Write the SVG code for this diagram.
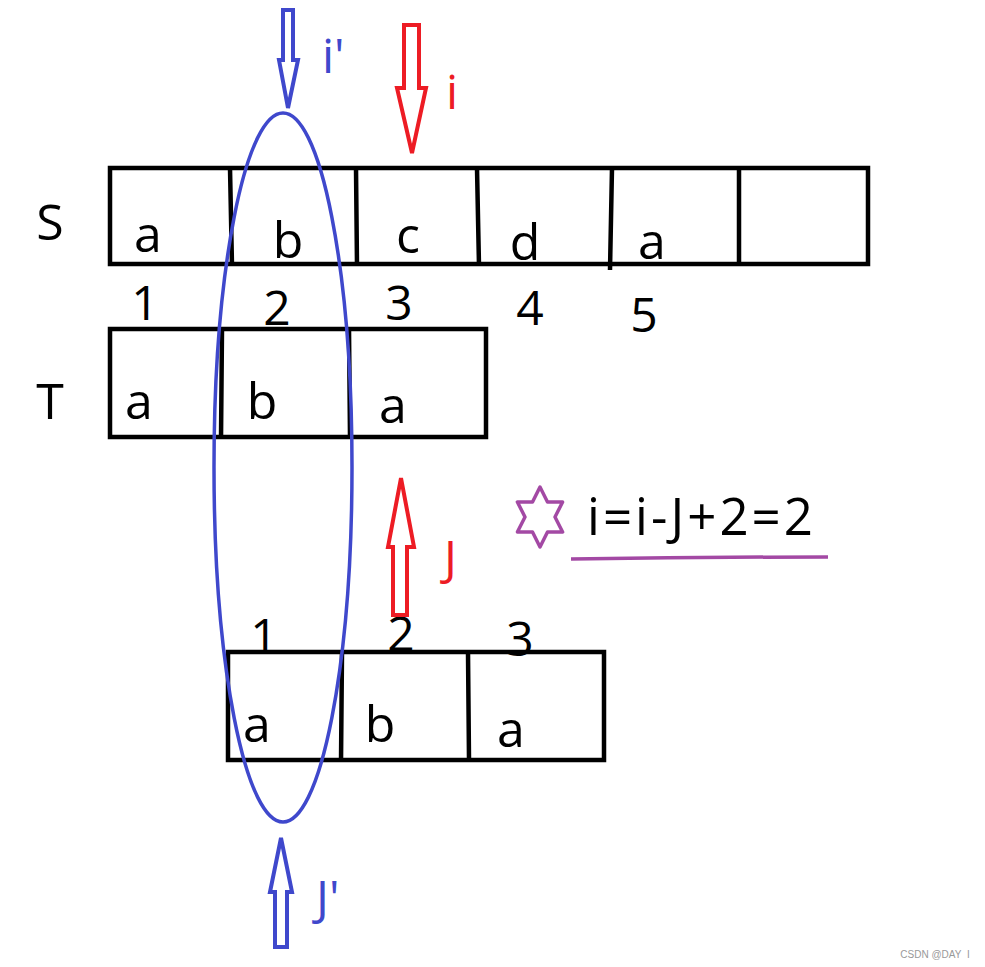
<svg xmlns="http://www.w3.org/2000/svg" width="985" height="967" viewBox="0 0 985 967">
<style>
.g{fill:none;stroke:#000;stroke-width:4.5}
.t{font-family:"Open Sans","Noto Sans",sans-serif;font-size:50px;fill:#000;text-anchor:middle}
.n{font-family:"Open Sans","Noto Sans",sans-serif;font-size:48px;fill:#000;text-anchor:middle}
.blue{fill:#fff;stroke:#3f48cc;stroke-width:4}
.red{fill:#fff;stroke:#ed1c24;stroke-width:4}
.lb{font-family:"Open Sans","Noto Sans",sans-serif;font-size:48px;fill:#3f48cc}
.lr{font-family:"Open Sans","Noto Sans",sans-serif;font-size:48px;fill:#ed1c24}
</style>
<rect width="985" height="967" fill="#fff"/>
<g id="S">
<text class="t" x="50" y="240">S</text>
<rect class="g" x="110" y="168" width="758" height="96"/>
<path class="g" d="M230 168L232 266M356 168L357 266M477 168L479 266M612 168L610 270M739 166L739 264"/>
<text class="t" x="148" y="252">a</text>
<text class="t" x="288" y="258">b</text>
<text class="t" x="408" y="253">c</text>
<text class="t" x="525" y="260">d</text>
<text class="t" x="652" y="259">a</text>
</g>
<g id="S-index">
<text class="n" x="145" y="320">1</text>
<text class="n" x="277" y="325">2</text>
<text class="n" x="399" y="320">3</text>
<text class="n" x="530" y="325">4</text>
<text class="n" x="644" y="332">5</text>
</g>
<g id="T">
<text class="t" x="50" y="419">T</text>
<rect class="g" x="110" y="329" width="376" height="108"/>
<path class="g" d="M222 329L221 439M349 329L350 437"/>
<text class="t" x="139" y="419">a</text>
<text class="t" x="262" y="419">b</text>
<text class="t" x="393" y="423">a</text>
</g>
<g id="T-shifted">
<text class="n" x="264" y="653">1</text>
<text class="n" x="401" y="651">2</text>
<text class="n" x="520" y="656">3</text>
<rect class="g" x="228" y="652" width="376" height="108"/>
<path class="g" d="M342 652L341 762M468 652L469 760"/>
<text class="t" x="257" y="742">a</text>
<text class="t" x="380" y="742">b</text>
<text class="t" x="511" y="747">a</text>
</g>
<g id="ellipse">
<ellipse cx="283" cy="467.5" rx="69" ry="354.5" fill="none" stroke="#3f48cc" stroke-width="3.5"/>
</g>
<g id="arrows">
<polygon class="blue" points="283,10 293,10 293,60 298,60 288,108 279,60 283,60"/>
<polygon class="red" points="404,25 419,25 419,88 426,88 412,153 397,88 404,88"/>
<polygon class="red" points="401,478 414,547 407,547 407,615 393,615 393,547 388,547"/>
<polygon class="blue" points="281,838 292,892 287,892 287,947 275,947 275,892 270,892"/>
</g>
<g id="labels">
<text class="lb" x="322" y="73">i'</text>
<text class="lr" x="446" y="109">i</text>
<text class="lr" x="444" y="575">J</text>
<text class="lb" x="316" y="915">J'</text>
</g>
<g id="formula">
<polygon points="540,487 547.5,502 562.6,502 555,517 562.6,532 547.5,532 540,547 532.5,532 517.4,532 525,517 517.4,502 532.5,502" fill="none" stroke="#a349a4" stroke-width="3.5" stroke-linejoin="round"/>
<text x="587" y="535" textLength="226" lengthAdjust="spacing" style="font-family:'Open Sans','Noto Sans',sans-serif;font-size:51px;fill:#000">i=i-J+2=2</text>
<path d="M571 559Q700 557 828 557" fill="none" stroke="#a349a4" stroke-width="3.5"/>
</g>
<text x="935" y="958" text-anchor="middle" style="font-family:'Liberation Sans',sans-serif;font-size:10px;fill:#999">CSDN @DAY&#160;&#160;I</text>
</svg>
